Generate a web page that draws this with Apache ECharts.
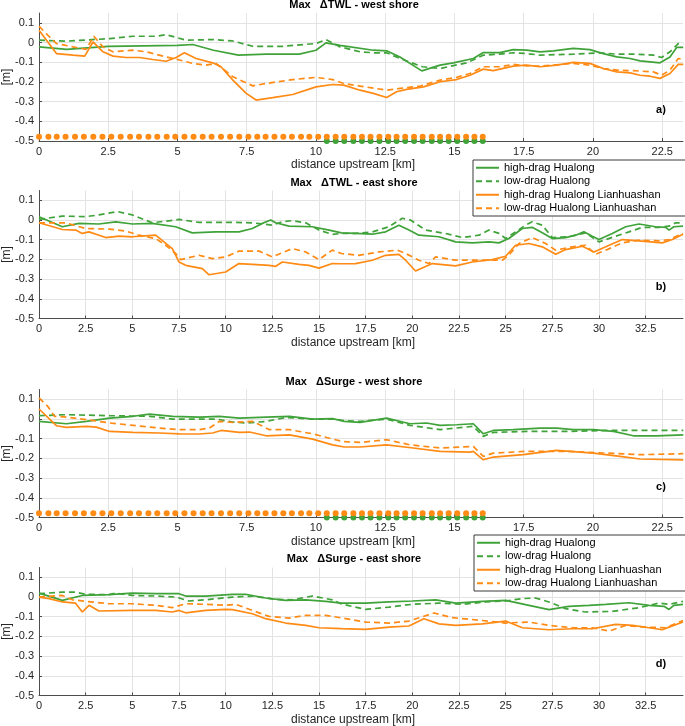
<!DOCTYPE html>
<html>
<head>
<meta charset="utf-8">
<script src="https://cdn.jsdelivr.net/npm/echarts@6/dist/echarts.min.js"></script>
<style>
html,body{margin:0;padding:0;background:#fff;}
#chart{width:685px;height:726px;}
</style>
</head>
<body>
<div id="chart"></div>
<script>
// ---------- series names ----------
const seriesNames = ['high-drag Hualong', 'low-drag Hualong', 'high-drag Hualong Lianhuashan', 'low-drag Hualong Lianhuashan'];
const xTickStep = 2.5;
const yTickStep = 0.1;

// ---------- panel a) Max ΔTWL - west shore ----------
const aHiH_km = [0, 1, 2.5, 5, 5.55, 6.3, 7.2, 8.2, 9.4, 10, 10.36, 10.87, 12.07, 12.55, 13.03, 13.82, 14.48, 14.96, 15.68, 16.04, 16.64, 17.12, 17.6, 18.09, 18.57, 19.29, 19.89, 20.37, 20.86, 21.34, 21.7, 22.06, 22.42, 22.78, 23.02, 23.26];
const aHiH_m  = [-0.022, -0.035, -0.019, -0.014, -0.01, -0.039, -0.064, -0.059, -0.059, -0.039, -0.002, -0.014, -0.039, -0.042, -0.073, -0.144, -0.115, -0.103, -0.081, -0.051, -0.051, -0.036, -0.039, -0.047, -0.042, -0.030, -0.036, -0.056, -0.073, -0.081, -0.093, -0.098, -0.103, -0.073, -0.025, -0.025];
const aLoH_km = [0, 0.99, 2.55, 3.39, 4.23, 4.59, 5.31, 6.27, 6.99, 7.72, 8.8, 10, 10.36, 10.87, 11.59, 12.07, 12.55, 13.03, 13.85, 14.48, 15.44, 16.04, 16.64, 17.12, 17.6, 18.09, 19.29, 20.25, 20.86, 21.46, 22.18, 22.48, 22.78, 23.08, 23.26];
const aLoH_m  = [0.012, 0.007, 0.02, 0.032, 0.032, 0.04, 0.012, 0.015, 0.008, -0.019, -0.019, -0.005, 0.015, -0.022, -0.047, -0.052, -0.052, -0.081, -0.123, -0.132, -0.103, -0.064, -0.059, -0.052, -0.056, -0.064, -0.059, -0.052, -0.059, -0.059, -0.064, -0.076, -0.047, -0.005, -0.005];
const aHiL_km = [0, 0.63, 1.23, 1.65, 1.95, 2.31, 2.67, 3.15, 3.63, 4.11, 4.59, 4.95, 5.25, 5.67, 6.27, 6.57, 7.0, 7.48, 7.84, 8.44, 9.16, 10, 10.6, 11.0, 11.59, 12.07, 12.55, 12.91, 13.27, 13.88, 14.48, 15.08, 15.56, 16.04, 16.4, 17.12, 17.6, 18.09, 18.69, 19.29, 19.89, 20.37, 20.86, 21.34, 21.7, 22.06, 22.42, 22.78, 23.08, 23.26];
const aHiL_m  = [0.062, -0.056, -0.064, -0.069, 0.003, -0.047, -0.069, -0.076, -0.076, -0.086, -0.095, -0.076, -0.052, -0.081, -0.103, -0.123, -0.191, -0.258, -0.292, -0.28, -0.264, -0.225, -0.213, -0.216, -0.242, -0.258, -0.279, -0.25, -0.238, -0.225, -0.199, -0.188, -0.166, -0.135, -0.143, -0.12, -0.115, -0.123, -0.115, -0.101, -0.106, -0.132, -0.149, -0.154, -0.166, -0.171, -0.182, -0.157, -0.111, -0.111];
const aLoL_km = [0, 0.32, 0.63, 1.23, 1.7, 1.98, 2.31, 2.67, 3.39, 3.87, 4.59, 5.01, 5.55, 6.03, 6.39, 7.0, 7.72, 8.2, 9.16, 10, 10.6, 11.0, 11.59, 12.55, 13.03, 13.76, 14.48, 15.08, 15.56, 16.04, 16.64, 17.12, 17.6, 18.09, 19.29, 19.89, 20.37, 20.86, 21.46, 22.18, 22.48, 22.78, 23.08, 23.26];
const aLoL_m  = [0.083, 0.037, -0.005, -0.022, -0.035, 0.032, -0.022, -0.047, -0.039, -0.047, -0.073, -0.086, -0.106, -0.115, -0.106, -0.174, -0.22, -0.208, -0.188, -0.177, -0.188, -0.208, -0.221, -0.242, -0.233, -0.221, -0.191, -0.177, -0.157, -0.123, -0.123, -0.111, -0.118, -0.12, -0.106, -0.115, -0.132, -0.14, -0.143, -0.149, -0.166, -0.14, -0.081, -0.086];

// ---------- panel b) Max ΔTWL - east shore ----------
const bHiH_km = [0, 1.25, 2.14, 3.21, 4.11, 5, 6.07, 7.32, 8.21, 9.46, 10.71, 11.43, 11.96, 12.41, 12.68, 13.39, 14.64, 15.54, 16.2, 16.96, 17.86, 18.57, 19.28, 19.82, 20.35, 21.42, 22.32, 23.21, 24.1, 24.64, 25.17, 25.89, 26.42, 26.96, 27.5, 28.21, 28.75, 29.19, 29.64, 30, 30.71, 31.43, 32.14, 33.03, 33.57, 33.75, 34.01, 34.5];
const bHiH_m  = [0.017, -0.034, -0.017, -0.02, -0.009, -0.02, -0.017, -0.034, -0.065, -0.06, -0.06, -0.043, -0.017, 0, -0.014, -0.031, -0.034, -0.051, -0.065, -0.068, -0.072, -0.06, -0.026, -0.051, -0.077, -0.085, -0.111, -0.116, -0.111, -0.116, -0.094, -0.043, -0.037, -0.065, -0.094, -0.089, -0.077, -0.06, -0.082, -0.099, -0.068, -0.034, -0.02, -0.034, -0.037, -0.051, -0.034, -0.031];
const bLoH_km = [0, 1.25, 2.5, 3.21, 4.2, 5, 6.07, 7.5, 8.57, 10.36, 11.43, 12.5, 13.04, 13.57, 14.29, 15, 15.71, 16.2, 16.96, 17.86, 18.75, 19.46, 19.9, 20.71, 21.78, 22.68, 23.57, 24.1, 24.64, 25, 25.53, 26.07, 26.42, 26.96, 27.5, 28.39, 29.28, 30, 30.89, 31.61, 32.32, 33.21, 33.75, 34.1, 34.5];
const bLoH_m  = [0.003, 0.02, 0.017, 0.026, 0.043, 0.026, -0.014, 0.003, -0.012, -0.012, -0.014, -0.026, -0.009, -0.003, -0.014, -0.051, -0.073, -0.068, -0.068, -0.06, -0.034, 0.009, 0, -0.051, -0.068, -0.089, -0.077, -0.051, -0.068, -0.094, -0.06, -0.026, -0.009, -0.026, -0.089, -0.085, -0.065, -0.111, -0.082, -0.06, -0.037, -0.037, -0.031, -0.014, -0.014];
const bHiL_km = [0, 1.25, 1.96, 2.32, 2.68, 3.57, 4.29, 5, 6.25, 7.14, 7.5, 7.86, 8.75, 9.11, 10, 10.71, 11.43, 12.32, 12.68, 13.04, 13.93, 14.46, 15, 15.71, 16.2, 16.96, 17.86, 18.57, 19.28, 19.64, 20.17, 21.07, 22.32, 23.21, 24.28, 25, 25.53, 26.25, 26.96, 27.68, 28.21, 29.11, 29.73, 30.36, 31.25, 32.14, 33.39, 33.93, 34.5];
const bHiL_m  = [-0.014, -0.048, -0.051, -0.068, -0.06, -0.089, -0.082, -0.085, -0.077, -0.145, -0.213, -0.23, -0.247, -0.278, -0.264, -0.221, -0.225, -0.23, -0.235, -0.213, -0.225, -0.23, -0.244, -0.221, -0.222, -0.221, -0.204, -0.179, -0.174, -0.204, -0.259, -0.221, -0.233, -0.213, -0.201, -0.184, -0.128, -0.119, -0.136, -0.174, -0.15, -0.133, -0.162, -0.136, -0.099, -0.106, -0.116, -0.099, -0.072];
const bLoL_km = [0, 1.43, 2.5, 3.75, 4.64, 5.36, 6.25, 6.79, 7.32, 7.59, 8.57, 9.29, 10, 10.71, 11.79, 12.5, 13.57, 14.29, 15, 15.71, 16.2, 17.14, 18.21, 19.2, 19.64, 20.35, 20.89, 21.25, 22.32, 23.75, 24.82, 25.17, 25.71, 26.42, 27.14, 27.68, 28.57, 29.28, 29.82, 30.36, 31.25, 32.14, 33.21, 33.75, 34.5];
const bLoL_m  = [-0.014, -0.014, -0.043, -0.046, -0.056, -0.077, -0.094, -0.128, -0.17, -0.201, -0.179, -0.196, -0.187, -0.158, -0.158, -0.187, -0.145, -0.162, -0.201, -0.153, -0.17, -0.179, -0.162, -0.153, -0.17, -0.204, -0.221, -0.187, -0.204, -0.204, -0.204, -0.179, -0.119, -0.089, -0.119, -0.153, -0.136, -0.128, -0.174, -0.153, -0.116, -0.102, -0.106, -0.099, -0.068];

// ---------- panel c) Max ΔSurge - west shore ----------
const cHiH_km = [0, 0.99, 1.71, 2.55, 3.39, 3.99, 4.83, 5.79, 6.51, 7.24, 8.2, 9.04, 9.88, 10.6, 11.02, 11.59, 12.55, 13.39, 13.99, 14.48, 15.08, 15.68, 16.04, 16.4, 17.12, 18.09, 18.69, 19.29, 20.01, 20.74, 21.46, 22.3, 23.26];
const cHiH_m  = [-0.012, -0.024, -0.012, 0.005, 0.014, 0.025, 0.014, 0.01, 0.014, 0.005, 0.01, 0.014, 0, 0.002, -0.012, -0.017, 0.005, -0.024, -0.02, -0.032, -0.029, -0.024, -0.075, -0.058, -0.054, -0.046, -0.046, -0.054, -0.054, -0.063, -0.085, -0.085, -0.08];
const cLoH_km = [0, 0.99, 2.55, 3.99, 4.83, 5.79, 6.39, 6.99, 7.48, 8.2, 8.92, 9.88, 10.6, 11.02, 11.59, 12.55, 13.39, 14.48, 15.68, 16.04, 16.4, 17.6, 19.05, 20.49, 21.7, 23.26];
const cLoH_m  = [0.017, 0.022, 0.017, 0.014, 0, 0, 0, -0.015, -0.02, -0.012, 0.008, 0, 0, -0.008, -0.012, 0, -0.032, -0.054, -0.037, -0.088, -0.068, -0.063, -0.063, -0.058, -0.058, -0.058];
const cHiL_km = [0, 0.63, 0.99, 1.71, 2.07, 2.55, 3.39, 4.35, 5.07, 5.79, 6.27, 6.57, 7.24, 7.6, 8.2, 9.04, 9.88, 10.6, 11.02, 11.59, 12.55, 13.51, 14.48, 15.56, 15.68, 16.04, 16.4, 17.48, 18.69, 20.01, 20.98, 21.7, 23.26];
const cHiL_m  = [0.051, -0.034, -0.042, -0.037, -0.041, -0.063, -0.068, -0.071, -0.075, -0.076, -0.071, -0.058, -0.068, -0.066, -0.085, -0.08, -0.102, -0.131, -0.142, -0.142, -0.131, -0.147, -0.164, -0.168, -0.164, -0.207, -0.193, -0.181, -0.159, -0.173, -0.19, -0.203, -0.207];
const cLoL_km = [0, 0.32, 0.56, 0.99, 1.71, 2.55, 3.39, 4.35, 5.07, 5.79, 6.15, 6.51, 6.99, 7.72, 8.32, 9.04, 9.88, 10.6, 11.02, 11.59, 12.55, 13.39, 14.48, 15.68, 16.04, 16.4, 17.6, 19.05, 20.49, 21.7, 23.26];
const cLoL_m  = [0.107, 0.064, 0.014, 0.01, -0.003, -0.02, -0.032, -0.046, -0.054, -0.054, -0.046, -0.012, -0.017, -0.012, -0.054, -0.054, -0.075, -0.102, -0.115, -0.119, -0.105, -0.131, -0.147, -0.139, -0.19, -0.173, -0.164, -0.164, -0.173, -0.181, -0.176];

// ---------- panel d) Max ΔSurge - east shore ----------
const dHiH_km = [0, 1.25, 2.32, 3.75, 5, 6.25, 7.5, 7.86, 8.93, 10.36, 11.07, 12.14, 13.21, 14.29, 15.36, 16.2, 17.5, 18.75, 20, 21.25, 22.32, 23.75, 25, 26.25, 27.32, 28.39, 29.46, 30.36, 31.61, 32.68, 33.48, 33.75, 34.01, 34.5];
const dHiH_m  = [0.02, -0.017, 0.008, 0.012, 0.02, 0.017, 0.017, 0.005, 0.005, 0.014, 0.014, -0.005, -0.017, -0.014, -0.022, -0.031, -0.031, -0.025, -0.02, -0.014, -0.031, -0.022, -0.017, -0.042, -0.064, -0.047, -0.042, -0.037, -0.029, -0.042, -0.047, -0.063, -0.042, -0.037];
const dLoH_km = [0, 1.25, 1.96, 2.5, 3.75, 4.11, 5, 6.25, 7.32, 8.04, 8.93, 10.36, 11.43, 12.68, 13.57, 14.64, 15.71, 16.2, 17.5, 18.75, 20, 21.43, 22.68, 23.93, 25, 25.89, 26.6, 27.32, 28.21, 29.28, 30.71, 32.14, 33.21, 33.75, 34.5];
const dLoH_m  = [0.017, 0.025, 0.025, 0.014, 0.012, 0.02, 0.008, 0.005, 0, -0.02, -0.014, 0, 0.005, -0.012, -0.014, 0.005, -0.014, -0.035, -0.063, -0.051, -0.037, -0.031, -0.037, -0.025, -0.02, -0.008, -0.005, -0.025, -0.059, -0.076, -0.073, -0.054, -0.031, -0.037, -0.022];
const dHiL_km = [0, 0.54, 1.25, 1.96, 2.32, 2.68, 3.21, 5, 6.25, 7.14, 7.5, 7.86, 8.93, 10, 10.36, 11.43, 12.14, 13.21, 14.29, 15, 16.2, 17.5, 18.75, 19.82, 20.62, 21.43, 22.32, 23.75, 25, 25.89, 27.32, 28.57, 29.64, 30.89, 31.79, 32.68, 33.39, 33.75, 34.5];
const dHiL_m  = [0, -0.008, -0.025, -0.031, -0.076, -0.042, -0.071, -0.068, -0.068, -0.076, -0.068, -0.08, -0.068, -0.063, -0.064, -0.085, -0.11, -0.132, -0.144, -0.156, -0.16, -0.164, -0.153, -0.147, -0.11, -0.136, -0.144, -0.136, -0.122, -0.156, -0.166, -0.161, -0.161, -0.139, -0.144, -0.156, -0.166, -0.153, -0.127];
const dLoL_km = [0, 1.25, 1.79, 2.5, 3.75, 5, 6.25, 7.14, 7.86, 8.93, 10, 10.54, 11.43, 12.32, 13.39, 14.29, 15.36, 16.2, 17.5, 18.75, 19.82, 21.16, 22.14, 23.75, 25, 26.25, 27.32, 28.57, 29.64, 30.54, 31.43, 32.5, 33.57, 34.5];
const dLoL_m  = [0, 0.008, -0.014, -0.022, -0.034, -0.034, -0.042, -0.054, -0.034, -0.037, -0.042, -0.037, -0.068, -0.098, -0.107, -0.093, -0.093, -0.106, -0.127, -0.132, -0.122, -0.081, -0.105, -0.119, -0.132, -0.127, -0.144, -0.156, -0.156, -0.173, -0.144, -0.153, -0.156, -0.119];

// ---------- station dots (west-shore panels) ----------
const orangeDotKm = [0, 0.34, 0.64, 0.96, 1.30, 1.62, 1.96, 2.29, 2.61, 2.95, 3.29, 3.61, 3.95, 4.27, 4.61, 4.92, 5.25, 5.58, 5.91, 6.23, 6.57, 6.90, 7.23, 7.56, 7.88, 8.18, 8.50, 8.82, 9.13, 9.46, 9.76, 10.08, 10.39, 10.71, 11.02, 11.35, 11.66, 11.97, 12.29, 12.61, 12.91, 13.22, 13.54, 13.85, 14.18, 14.48, 14.79, 15.10, 15.42, 15.72, 16.02];
const greenDotKm  = [10.39, 10.71, 11.02, 11.35, 11.66, 11.97, 12.29, 12.61, 12.91, 13.22, 13.54, 13.85, 14.18, 14.48, 14.79, 15.10, 15.42, 15.72, 16.02];
const dotLevels = [-0.478, -0.5]; // orange row, green row [m]

// ---------- build ----------
const GREEN = '#3FA33A', ORANGE = '#FF8A14';
const FONT = '"Liberation Sans", Arial, Helvetica, sans-serif';
const zip = (xs, ys) => xs.map((x, i) => [x, ys[i]]);

const panels = [
  { top: 13, xmax: 23.25, title: 'Max   \u0394TWL - west shore', tag: 'a)', tagY: 110, titleY: 5,
    lines: [[aHiH_km, aHiH_m], [aLoH_km, aLoH_m], [aHiL_km, aHiL_m], [aLoL_km, aLoL_m]], dots: true },
  { top: 190.5, xmax: 34.5, title: 'Max   \u0394TWL - east shore', tag: 'b)', tagY: 287, titleY: 182.5,
    lines: [[bHiH_km, bHiH_m], [bLoH_km, bLoH_m], [bHiL_km, bHiL_m], [bLoL_km, bLoL_m]], dots: false },
  { top: 389.5, xmax: 23.25, title: 'Max   \u0394Surge - west shore', tag: 'c)', tagY: 487, titleY: 381.5,
    lines: [[cHiH_km, cHiH_m], [cLoH_km, cLoH_m], [cHiL_km, cHiL_m], [cLoL_km, cLoL_m]], dots: true },
  { top: 567.5, xmax: 34.5, title: 'Max   \u0394Surge - east shore', tag: 'd)', tagY: 664, titleY: 559,
    lines: [[dHiH_km, dHiH_m], [dLoH_km, dLoH_m], [dHiL_km, dHiL_m], [dLoL_km, dLoL_m]], dots: false }
];

const lineColors = [GREEN, GREEN, ORANGE, ORANGE];
const lineTypes = ['solid', [6, 4], 'solid', [6, 4]];

const grid = [], xAxis = [], yAxis = [], series = [], graphic = [];
panels.forEach((p, i) => {
  grid.push({ left: 39, right: 2, top: p.top, height: 128, containLabel: false, outerBoundsMode: 'none' });
  xAxis.push({
    type: 'value', gridIndex: i, min: 0, max: p.xmax, interval: xTickStep,
    name: 'distance upstream [km]', nameLocation: 'middle', nameGap: 18,
    nameTextStyle: { fontSize: 12, color: '#262626', fontFamily: FONT, padding: [0, 16, 0, 0] },
    axisLine: { show: true, onZero: false, lineStyle: { color: '#4d4d4d', width: 1 } },
    axisTick: { show: true, inside: true, length: 3, lineStyle: { color: '#4d4d4d' } },
    axisLabel: { margin: 5, fontSize: 11, color: '#262626', fontFamily: FONT, showMaxLabel: false,
      formatter: v => (Math.abs(v / xTickStep - Math.round(v / xTickStep)) < 1e-6 ? String(Math.round(v * 10) / 10) : '') },
    splitLine: { show: true, showMaxLine: false, lineStyle: { color: '#e3e3e3', width: 1 } }
  });
  yAxis.push({
    type: 'value', gridIndex: i, min: -0.5, max: 0.15, interval: yTickStep,
    name: '[m]', nameLocation: 'middle', nameGap: 26, nameRotate: 90, nameMoveOverlap: false,
    nameTextStyle: { fontSize: 12, color: '#262626', fontFamily: FONT },
    axisLine: { show: true, onZero: false, lineStyle: { color: '#4d4d4d', width: 1 } },
    axisTick: { show: true, inside: true, length: 3, lineStyle: { color: '#4d4d4d' } },
    axisLabel: { margin: 5, fontSize: 11, color: '#262626', fontFamily: FONT, showMaxLabel: false,
      formatter: v => (Math.abs(v - 0.15) < 1e-6 ? '' : String(Math.round(v * 10) / 10)) },
    splitLine: { show: true, showMaxLine: false, lineStyle: { color: '#e3e3e3', width: 1 } }
  });
  if (p.dots) {
    series.push({ type: 'scatter', xAxisIndex: i, yAxisIndex: i, clip: false, silent: true,
      symbolSize: 6, itemStyle: { color: GREEN, opacity: 1 }, z: 2,
      data: greenDotKm.map(k => [k, dotLevels[1]]) });
    series.push({ type: 'scatter', xAxisIndex: i, yAxisIndex: i, clip: false, silent: true,
      symbolSize: 6, itemStyle: { color: ORANGE, opacity: 1 }, z: 3,
      data: orangeDotKm.map(k => [k, dotLevels[0]]) });
  }
  p.lines.forEach((ln, j) => {
    series.push({
      type: 'line', name: seriesNames[j], xAxisIndex: i, yAxisIndex: i,
      symbol: 'none', showSymbol: false, animation: false, z: 4,
      lineStyle: { color: lineColors[j], width: 1.7, type: lineTypes[j] },
      itemStyle: { color: lineColors[j] },
      data: zip(ln[0], ln[1])
    });
  });
  graphic.push({ type: 'text', x: 354, y: p.titleY, silent: true,
    style: { text: p.title, fill: '#000', font: 'bold 11px ' + FONT, align: 'center', verticalAlign: 'middle' } });
  graphic.push({ type: 'text', x: 661, y: p.tagY, silent: true,
    style: { text: p.tag, fill: '#000', font: 'bold 11px ' + FONT, align: 'center', verticalAlign: 'middle' } });
});

const legendBase = {
  data: seriesNames, orient: 'vertical', itemWidth: 23, itemHeight: 10, itemGap: 0,
  backgroundColor: '#fff', borderColor: '#3a3a3a', borderWidth: 1, borderRadius: 0,
  padding: [1, 27, 1, 2], selectedMode: false,
  itemStyle: { opacity: 0 },
  lineStyle: { opacity: 1 },
  textStyle: { fontSize: 11, color: '#000', fontFamily: FONT, lineHeight: 13.5 }
};

const chart = echarts.init(document.getElementById('chart'), null, { renderer: 'canvas' });
chart.setOption({
  backgroundColor: '#fff',
  animation: false,
  textStyle: { fontFamily: FONT },
  grid, xAxis, yAxis, series, graphic,
  legend: [
    Object.assign({}, legendBase, { left: 473, top: 160 }),
    Object.assign({}, legendBase, { left: 474, top: 535 })
  ]
});
</script>
</body>
</html>
